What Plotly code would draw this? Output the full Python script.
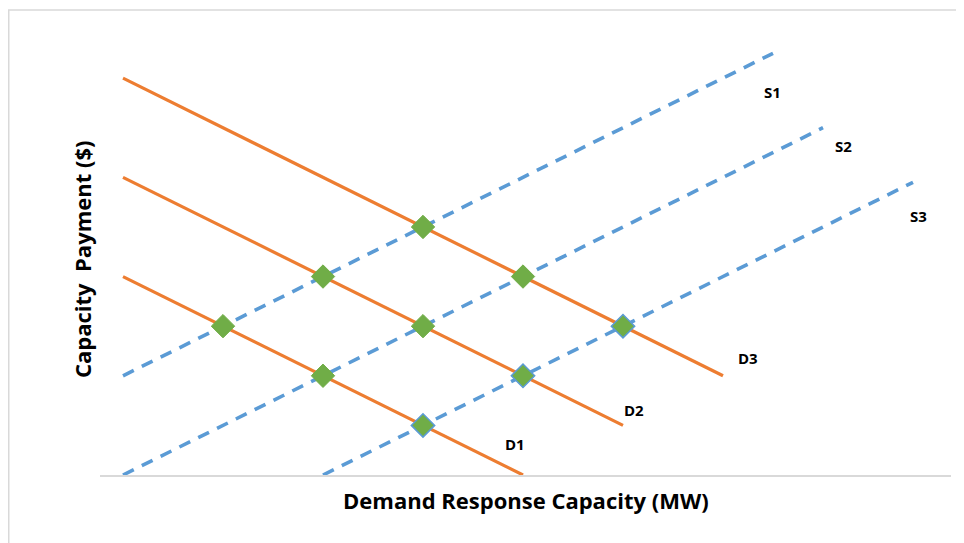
import plotly.graph_objects as go

# Demand curves
d1_x = [0, 1, 2, 3, 4]
d1_y = [4, 3, 2, 1, 0]
d2_x = [0, 1, 2, 3, 4, 5]
d2_y = [6, 5, 4, 3, 2, 1]
d3_x = [0, 1, 2, 3, 4, 5, 6]
d3_y = [8, 7, 6, 5, 4, 3, 2]
# Supply curves
s1_x = [0, 1, 2, 3, 4, 5, 6, 6.5]
s1_y = [2, 3, 4, 5, 6, 7, 8, 8.5]
s2_x = [0, 1, 2, 3, 4, 5, 6, 7]
s2_y = [0, 1, 2, 3, 4, 5, 6, 7]
s3_x = [2, 3, 4, 5, 6, 7, 7.9]
s3_y = [0, 1, 2, 3, 4, 5, 5.9]
# Equilibrium points
eq_a_x = [1, 2, 2, 3, 3, 4]
eq_a_y = [3, 2, 4, 3, 5, 4]
eq_b_x = [3, 4, 5]
eq_b_y = [1, 2, 3]

curve_labels = ["S1", "S2", "S3", "D3", "D2", "D1"]
label_x = [6.49, 7.2, 7.95, 6.25, 5.11, 3.92]
label_y = [7.72, 6.63, 5.22, 2.36, 1.31, 0.63]

ORANGE = "#ED7D31"
BLUE = "#5B9BD5"
GREEN = "#70AD47"
FONT = "Open Sans"

W, H = 956, 535          # page body has 8px margin
L, T, B, R = 92, 22, 68, 13
PW = W - L - R
PH = H - T - B

fig = go.Figure()
for x, y in [(s1_x, s1_y), (s2_x, s2_y), (s3_x, s3_y)]:
    fig.add_trace(go.Scatter(x=x, y=y, mode="lines",
                             line=dict(color=BLUE, width=3.6, dash="12px,9px"),
                             hoverinfo="skip"))
for x, y in [(d1_x, d1_y), (d2_x, d2_y), (d3_x, d3_y)]:
    fig.add_trace(go.Scatter(x=x, y=y, mode="lines",
                             line=dict(color=ORANGE, width=3.2), hoverinfo="skip"))
fig.add_trace(go.Scatter(x=eq_a_x, y=eq_a_y, mode="markers",
                         marker=dict(symbol="diamond", size=18, color=GREEN,
                                     line=dict(color=GREEN, width=1))))
fig.add_trace(go.Scatter(x=eq_b_x, y=eq_b_y, mode="markers",
                         marker=dict(symbol="diamond", size=18, color=GREEN,
                                     line=dict(color=BLUE, width=1.5))))

for t, x, y in zip(curve_labels, label_x, label_y):
    fig.add_annotation(x=x, y=y, text="<b>%s</b>" % t, showarrow=False,
                       font=dict(size=15, color="#000000", family=FONT))

fig.add_annotation(xref="paper", yref="paper", x=0.5, y=-25 / PH,
                   text="<b>Demand Response Capacity (MW)</b>", showarrow=False,
                   font=dict(size=22, color="#000000", family=FONT),
                   xanchor="center", yanchor="middle")
fig.add_annotation(xref="paper", yref="paper", x=-18 / PW, y=(475 - 260) / PH,
                   text="<b>Capacity&nbsp;&nbsp;Payment ($)</b>", showarrow=False,
                   textangle=-90,
                   font=dict(size=22, color="#000000", family=FONT),
                   xanchor="center", yanchor="middle")

fig.add_shape(type="rect", xref="paper", yref="paper",
              x0=(-L + 0.75) / PW, x1=(PW + R + 20) / PW,
              y0=-(B + 20) / PH, y1=(PH + T - 2) / PH,
              line=dict(color="#D9D9D9", width=1.5), fillcolor="rgba(0,0,0,0)",
              layer="below")

fig.update_layout(
    width=W, height=H,
    margin=dict(l=L, r=R, t=T, b=B),
    paper_bgcolor="white", plot_bgcolor="white",
    showlegend=False,
    xaxis=dict(range=[-0.23, 8.28], showgrid=False, zeroline=False,
               showticklabels=False, showline=True, linecolor="#D9D9D9",
               linewidth=1.5, ticks=""),
    yaxis=dict(range=[0, 8.97], showgrid=False, zeroline=False,
               showticklabels=False, showline=False, ticks=""),
)

fig.write_html("out.html")
